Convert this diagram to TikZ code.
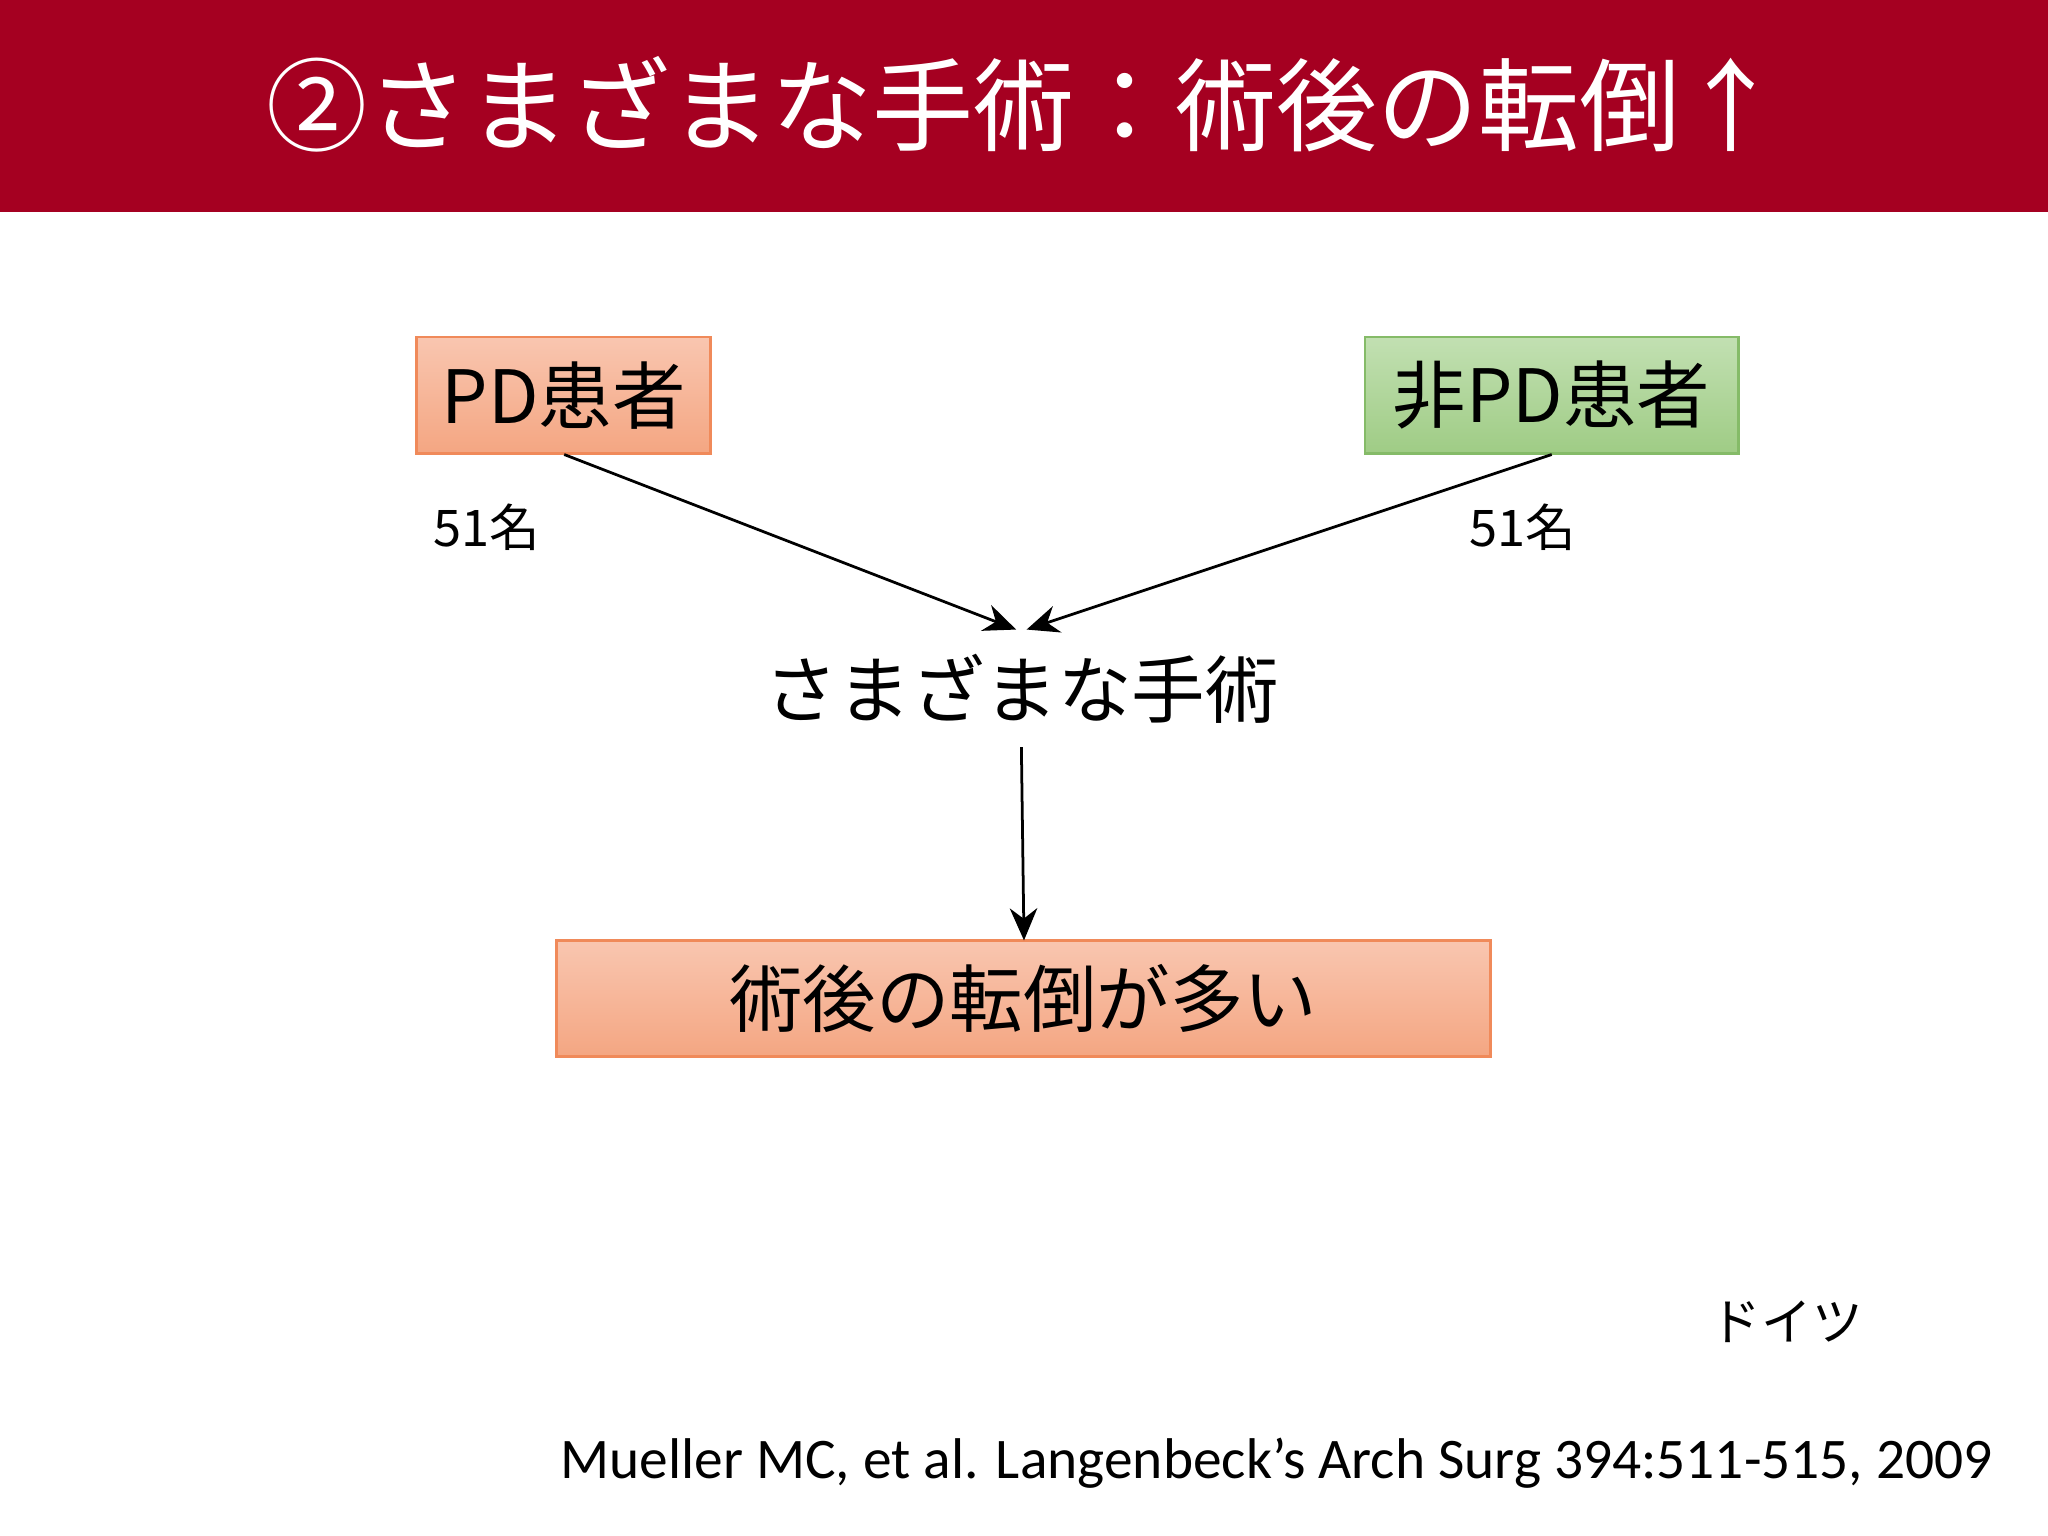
\documentclass[tikz,border=0pt]{standalone}
\usepackage{fontspec}
\setmainfont{Noto Sans CJK JP}
\newfontfamily\citefont{Carlito}
\usetikzlibrary{arrows.meta}
\definecolor{barred}{HTML}{A50021}
\definecolor{salmonA}{HTML}{F9C6B0}
\definecolor{salmonB}{HTML}{F4A682}
\definecolor{salmonE}{HTML}{F08A5A}
\definecolor{greenA}{HTML}{C2E0B2}
\definecolor{greenB}{HTML}{9FCC85}
\definecolor{greenE}{HTML}{85BB68}
\tikzset{
  pdbox/.style={draw=salmonE, top color=salmonA, bottom color=salmonB, line width=0.6pt},
  npbox/.style={draw=greenE, top color=greenA, bottom color=greenB, line width=0.6pt},
  conn/.style={-{Stealth[length=7pt,width=6pt]}, line width=0.6pt}
}
\begin{document}
\begin{tikzpicture}[x=0.01cm,y=-0.01cm]
\useasboundingbox (0,0) rectangle (1568,1176);
\fill[barred] (0,0) rectangle (1568,162);
\node[text=white, font=\fontsize{22}{26}\selectfont] (title) at (784,80) {②さまざまな手術：術後の転倒↑};
\draw[pdbox] (319,258) rectangle (544,347);
\node[font=\fontsize{16}{19}\selectfont] (pd) at (431.5,302.5) {PD患者};
\draw[npbox] (1045,258) rectangle (1331,347);
\node[font=\fontsize{16}{19}\selectfont] (npd) at (1188,302.5) {非PD患者};
\coordinate (pdb) at (432,348);
\coordinate (npb) at (1188,348);
\node[font=\fontsize{11}{13}\selectfont] (n1) at (373,404) {51名};
\node[font=\fontsize{11}{13}\selectfont] (n2) at (1166,404) {51名};
\node[font=\fontsize{16}{19}\selectfont, inner sep=0pt] (surg) at (782,527) {さまざまな手術};
\coordinate (t1) at (778,482);
\coordinate (t2) at (786,482);
\draw[conn] (pdb) -- (t1);
\draw[conn] (npb) -- (t2);
\draw[pdbox] (426,720) rectangle (1141,809);
\node[font=\fontsize{16}{19}\selectfont] (res) at (783.5,764.5) {術後の転倒が多い};
\coordinate (s0) at (782,572);
\coordinate (s1) at (784,720);
\draw[conn] (s0) -- (s1);
\node[font=\fontsize{11}{13}\selectfont] (de) at (1368,1012) {ドイツ};
\node[anchor=east, font=\citefont\fontsize{12.5}{15}\selectfont] (cite) at (1538,1120) {Mueller MC, et al. Langenbeck’s Arch Surg 394:511-515, 2009};
\end{tikzpicture}
\end{document}
